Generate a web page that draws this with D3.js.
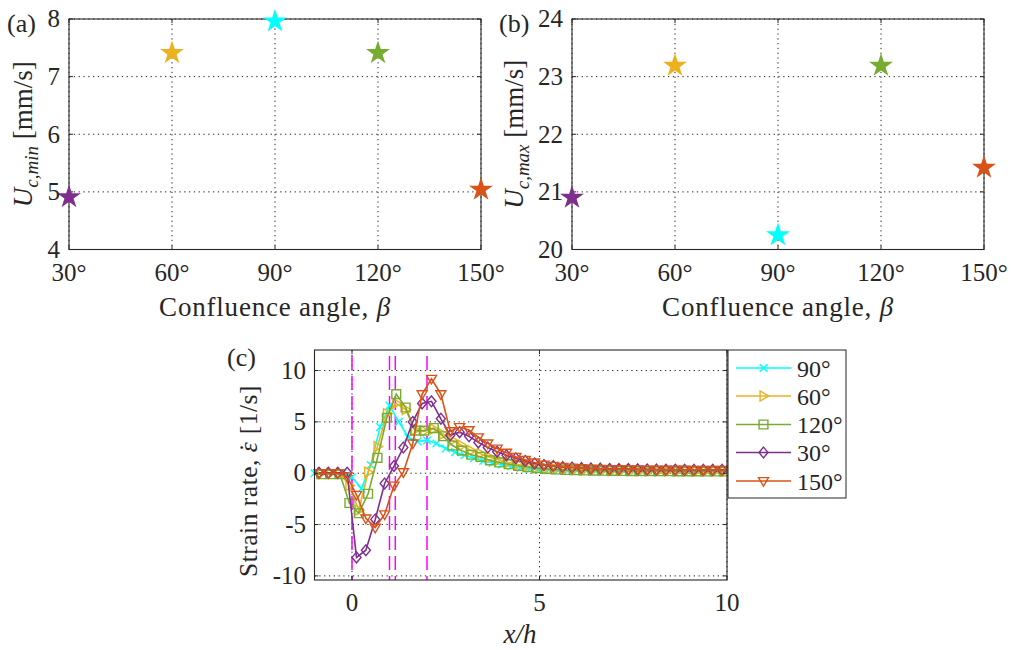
<!DOCTYPE html>
<html>
<head>
<meta charset="utf-8">
<script src="https://cdn.jsdelivr.net/npm/d3@7"></script>
<style>
  body { margin: 0; background: #fff; }
  svg text { font-family: "Liberation Serif", "Times New Roman", serif; fill: #262626; }
</style>
</head>
<body>
<svg id="fig" width="1012" height="650"></svg>
<script>
// ---- Panels (a) and (b): confluence-angle summary ----
const angleCats = [30, 60, 90, 120, 150];
const angleTickLabels = ["30°", "60°", "90°", "120°", "150°"];
const angleColors = ["#7E2F8E", "#EDB120", "#00FFFF", "#77AC30", "#D95319"];
const uMin = [4.91, 7.41, 7.96, 7.41, 5.04];     // U_c,min [mm/s]
const uMax = [20.90, 23.19, 20.25, 23.19, 21.42]; // U_c,max [mm/s]
const uMinTicks = [4, 5, 6, 7, 8];
const uMaxTicks = [20, 21, 22, 23, 24];

// ---- Panel (c): strain rate along the centreline ----
const xGrid = [-1, -0.75, -0.5, -0.25, 0, 0.25, 0.5, 0.75, 1, 1.25, 1.5, 1.75, 2, 2.25,
  2.5, 2.75, 3, 3.25, 3.5, 3.75, 4, 4.25, 4.5, 4.75, 5, 5.25, 5.5, 5.75, 6, 6.25, 6.5,
  6.75, 7, 7.25, 7.5, 7.75, 8, 8.25, 8.5, 8.75, 9, 9.25, 9.5, 9.75, 10];
const seriesNames = ["90°", "60°", "120°", "30°", "150°"];
const seriesColors = ["#00FFFF", "#EDB120", "#77AC30", "#7E2F8E", "#D95319"];
const seriesMarkers = ["cross", "triRight", "square", "diamond", "triDown"];
const seriesXOffset = [0, -0.07, -0.07, 0.12, 0.12];
const rate90 = [0, 0, 0, 0, -0.4, -1.5, 0.8, 4.5, 6.6, 5.0, 3.5, 3.1, 3.2, 2.9, 2.4, 2.05,
  1.75, 1.45, 1.2, 1.0, 0.85, 0.68, 0.52, 0.42, 0.34, 0.3, 0.27, 0.25, 0.23, 0.22, 0.21,
  0.2, 0.19, 0.18, 0.18, 0.17, 0.17, 0.16, 0.16, 0.15, 0.15, 0.15, 0.14, 0.14, 0.14];
const rate60 = [0, 0, 0, 0, -1.2, -3.6, 0.1, 2.6, 5.8, 6.8, 6.2, 4.2, 4.1, 4.3, 3.8, 3.2,
  2.7, 2.2, 1.9, 1.55, 1.3, 1.05, 0.85, 0.7, 0.55, 0.48, 0.42, 0.38, 0.35, 0.32, 0.3,
  0.28, 0.27, 0.26, 0.25, 0.24, 0.23, 0.22, 0.22, 0.21, 0.21, 0.2, 0.2, 0.2, 0.2];
const rate120 = [-0.1, -0.1, -0.1, -0.1, -2.9, -3.9, -2.0, 1.5, 5.4, 7.7, 6.4, 4.15, 4.15,
  4.4, 3.6, 2.7, 2.2, 1.8, 1.6, 1.25, 1.05, 0.88, 0.72, 0.6, 0.5, 0.42, 0.36, 0.32, 0.29,
  0.27, 0.25, 0.24, 0.23, 0.22, 0.21, 0.2, 0.2, 0.19, 0.19, 0.18, 0.18, 0.18, 0.17, 0.17, 0.17];
const rate30 = [0.05, 0.05, 0.05, 0.05, -8.2, -7.5, -4.5, -1.0, 0.7, 2.5, 5.0, 6.8, 7.0,
  5.3, 3.7, 4.0, 3.6, 3.0, 2.5, 2.1, 1.75, 1.45, 1.2, 0.95, 0.8, 0.7, 0.6, 0.55, 0.5,
  0.47, 0.45, 0.42, 0.4, 0.4, 0.38, 0.37, 0.36, 0.35, 0.35, 0.34, 0.34, 0.33, 0.33, 0.33, 0.32];
const rate150 = [0, 0, 0, -0.3, -2.1, -4.4, -5.3, -4.0, -1.2, 0.1, 2.9, 7.7, 9.2, 7.7, 4.1,
  4.5, 4.2, 3.5, 2.9, 2.4, 2.0, 1.6, 1.3, 1.05, 0.85, 0.72, 0.62, 0.55, 0.5, 0.46, 0.43,
  0.41, 0.39, 0.38, 0.37, 0.36, 0.35, 0.35, 0.34, 0.34, 0.33, 0.33, 0.33, 0.32, 0.32];
const seriesValues = [rate90, rate60, rate120, rate30, rate150];
const guideX = [0, 1, 1.155, 2];
const rateXTicks = [0, 5, 10];
const rateYTicks = [-10, -5, 0, 5, 10];

const svg = d3.select("#fig");
const AX = "#262626";
const TICK_FS = 25, LABEL_FS = 27;

function gridAndBox(x, y, xTicks, yTicks) {
  const [xa, xb] = x.range(), [yb, ya] = y.range();
  const g = svg.append("g");
  g.selectAll(null).data(xTicks).join("line")
    .attr("x1", d => x(d)).attr("x2", d => x(d)).attr("y1", ya).attr("y2", yb)
    .attr("stroke", AX).attr("stroke-width", 1).attr("stroke-dasharray", "1.3,3.5");
  g.selectAll(null).data(yTicks).join("line")
    .attr("y1", d => y(d)).attr("y2", d => y(d)).attr("x1", xa).attr("x2", xb)
    .attr("stroke", AX).attr("stroke-width", 1).attr("stroke-dasharray", "1.3,3.5");
  return g;
}

function frame(x, y, xTicks, yTicks) {
  const [xa, xb] = x.range(), [yb, ya] = y.range();
  const g = svg.append("g");
  const tl = 4;
  xTicks.forEach(t => {
    g.append("line").attr("x1", x(t)).attr("x2", x(t)).attr("y1", yb).attr("y2", yb - tl).attr("stroke", AX);
    g.append("line").attr("x1", x(t)).attr("x2", x(t)).attr("y1", ya).attr("y2", ya + tl).attr("stroke", AX);
  });
  yTicks.forEach(t => {
    g.append("line").attr("y1", y(t)).attr("y2", y(t)).attr("x1", xa).attr("x2", xa + tl).attr("stroke", AX);
    g.append("line").attr("y1", y(t)).attr("y2", y(t)).attr("x1", xb).attr("x2", xb - tl).attr("stroke", AX);
  });
  g.append("rect").attr("x", xa).attr("y", ya).attr("width", xb - xa).attr("height", yb - ya)
    .attr("fill", "none").attr("stroke", AX).attr("stroke-width", 1.1);
}

function tickLabels(x, y, xTicks, yTicks, xFmt, yFmt, xBase, yRight) {
  svg.append("g").selectAll(null).data(xTicks).join("text")
    .attr("x", d => x(d)).attr("y", xBase).attr("text-anchor", "middle")
    .attr("font-size", TICK_FS).text(xFmt);
  svg.append("g").selectAll(null).data(yTicks).join("text")
    .attr("x", yRight).attr("y", d => y(d)).attr("dy", "0.33em").attr("text-anchor", "end")
    .attr("font-size", TICK_FS).text(yFmt);
}

function yLabelU(cx, cy, sub) {
  const t = svg.append("text")
    .attr("transform", `translate(${cx},${cy}) rotate(-90)`)
    .attr("text-anchor", "middle").attr("font-size", LABEL_FS);
  t.append("tspan").attr("font-style", "italic").text("U");
  t.append("tspan").attr("font-style", "italic").attr("font-size", 19).attr("dy", 6).text(sub);
  t.append("tspan").attr("dy", -6).text(" [mm/s]");
}

const star = d3.symbol().type(d3.symbolStar).size(178);

function summaryPanel(xr, yr, yDomain, yTicks, values, tag, tagX, sub, yLabX) {
  const x = d3.scaleLinear().domain([30, 150]).range(xr);
  const y = d3.scaleLinear().domain(yDomain).range(yr);
  gridAndBox(x, y, angleCats, yTicks);
  frame(x, y, angleCats, yTicks);
  svg.append("g").selectAll(null).data(values).join("path")
    .attr("d", star)
    .attr("transform", (d, i) => `translate(${x(angleCats[i])},${y(d)})`)
    .attr("fill", (d, i) => angleColors[i]);
  tickLabels(x, y, angleCats, yTicks, (d, i) => angleTickLabels[i], d => d, 281, xr[0] - 9);
  svg.append("text").attr("x", (xr[0] + xr[1]) / 2).attr("y", 316).attr("text-anchor", "middle")
    .attr("font-size", LABEL_FS).attr("letter-spacing", 0.8)
    .html('Confluence angle, <tspan font-style="italic">β</tspan>');
  svg.append("text").attr("x", tagX).attr("y", 32).attr("font-size", 26).text(tag);
  yLabelU(yLabX, (yr[0] + yr[1]) / 2, sub);
}

summaryPanel([69, 481], [249.5, 19], [4, 8], uMinTicks, uMin, "(a)", 7, "c,min", 31.5);
summaryPanel([572, 984], [249.5, 19], [20, 24], uMaxTicks, uMax, "(b)", 499, "c,max", 522.5);

// ---- Panel (c) ----
const xc = d3.scaleLinear().domain([-1, 10]).range([314.5, 727]);
const yc = d3.scaleLinear().domain([-10.4, 12]).range([580, 350]);
gridAndBox(xc, yc, rateXTicks, rateYTicks);

svg.append("defs").append("clipPath").attr("id", "clipC")
  .append("rect").attr("x", 314.5).attr("y", 350).attr("width", 412.5).attr("height", 230);

svg.append("g").attr("clip-path", "url(#clipC)").selectAll(null).data(guideX).join("line")
  .attr("x1", d => xc(d)).attr("x2", d => xc(d)).attr("y1", 350).attr("y2", 580)
  .attr("stroke", "#FF00FF").attr("stroke-width", 1.5).attr("stroke-dasharray", "14,6")
  .attr("stroke-dashoffset", -6);

function markerPath(kind) {
  const p = d3.path();
  if (kind === "cross") {
    p.moveTo(-3.8, -3.8); p.lineTo(3.8, 3.8); p.moveTo(-3.8, 3.8); p.lineTo(3.8, -3.8);
  } else if (kind === "triRight") {
    p.moveTo(5.2, 0); p.lineTo(-3.4, -5); p.lineTo(-3.4, 5); p.closePath();
  } else if (kind === "square") {
    p.rect(-4.4, -4.4, 8.8, 8.8);
  } else if (kind === "diamond") {
    p.moveTo(0, -5.4); p.lineTo(4.5, 0); p.lineTo(0, 5.4); p.lineTo(-4.5, 0); p.closePath();
  } else if (kind === "triDown") {
    p.moveTo(0, 5.2); p.lineTo(-5, -3.4); p.lineTo(5, -3.4); p.closePath();
  }
  return p.toString();
}

const line = d3.line().x(d => xc(d[0])).y(d => yc(d[1]));
const dataLayer = svg.append("g");
seriesValues.forEach((vals, s) => {
  const pts = vals.map((v, i) => [xGrid[i] + seriesXOffset[s], v]);
  dataLayer.append("path").attr("clip-path", "url(#clipC)")
    .attr("d", line(pts)).attr("fill", "none")
    .attr("stroke", seriesColors[s]).attr("stroke-width", 1.6);
  dataLayer.append("g").selectAll(null)
    .data(pts.filter(p => p[0] >= -1 && p[0] <= 10)).join("path")
    .attr("d", markerPath(seriesMarkers[s]))
    .attr("transform", p => `translate(${xc(p[0])},${yc(p[1])})`)
    .attr("fill", "none").attr("stroke", seriesColors[s]).attr("stroke-width", 1.4);
});

frame(xc, yc, rateXTicks, rateYTicks);
tickLabels(xc, yc, rateXTicks, rateYTicks, d => d, d => d, 611, 306);

svg.append("text").attr("x", 520).attr("y", 643).attr("text-anchor", "middle")
  .attr("font-size", LABEL_FS).attr("font-style", "italic").text("x/h");

// y label with a dot accent placed over the epsilon
const yl = svg.append("text").attr("transform", "translate(256.5,481) rotate(-90)")
  .attr("text-anchor", "middle").attr("font-size", 25.5).attr("letter-spacing", 0.5);
yl.append("tspan").text("Strain rate, ");
yl.append("tspan").attr("font-style", "italic").text("ε");
yl.append("tspan").attr("dx", -10).text("˙");
yl.append("tspan").attr("dx", 1.5).text(" [1/s]");

svg.append("text").attr("x", 227).attr("y", 366).attr("font-size", 26).text("(c)");

// legend
const leg = svg.append("g");
leg.append("rect").attr("x", 728).attr("y", 350).attr("width", 118).attr("height", 148)
  .attr("fill", "#fff").attr("stroke", AX).attr("stroke-width", 1);
const legY = [368, 396, 424.5, 452.5, 481];
seriesNames.forEach((name, s) => {
  const ly = legY[s];
  leg.append("line").attr("x1", 736).attr("x2", 791).attr("y1", ly).attr("y2", ly)
    .attr("stroke", seriesColors[s]).attr("stroke-width", 1.6);
  leg.append("path").attr("d", markerPath(seriesMarkers[s]))
    .attr("transform", `translate(763.5,${ly})`)
    .attr("fill", "none").attr("stroke", seriesColors[s]).attr("stroke-width", 1.4);
  leg.append("text").attr("x", 797).attr("y", ly + 8.5).attr("font-size", 24).text(name);
});
</script>
</body>
</html>
